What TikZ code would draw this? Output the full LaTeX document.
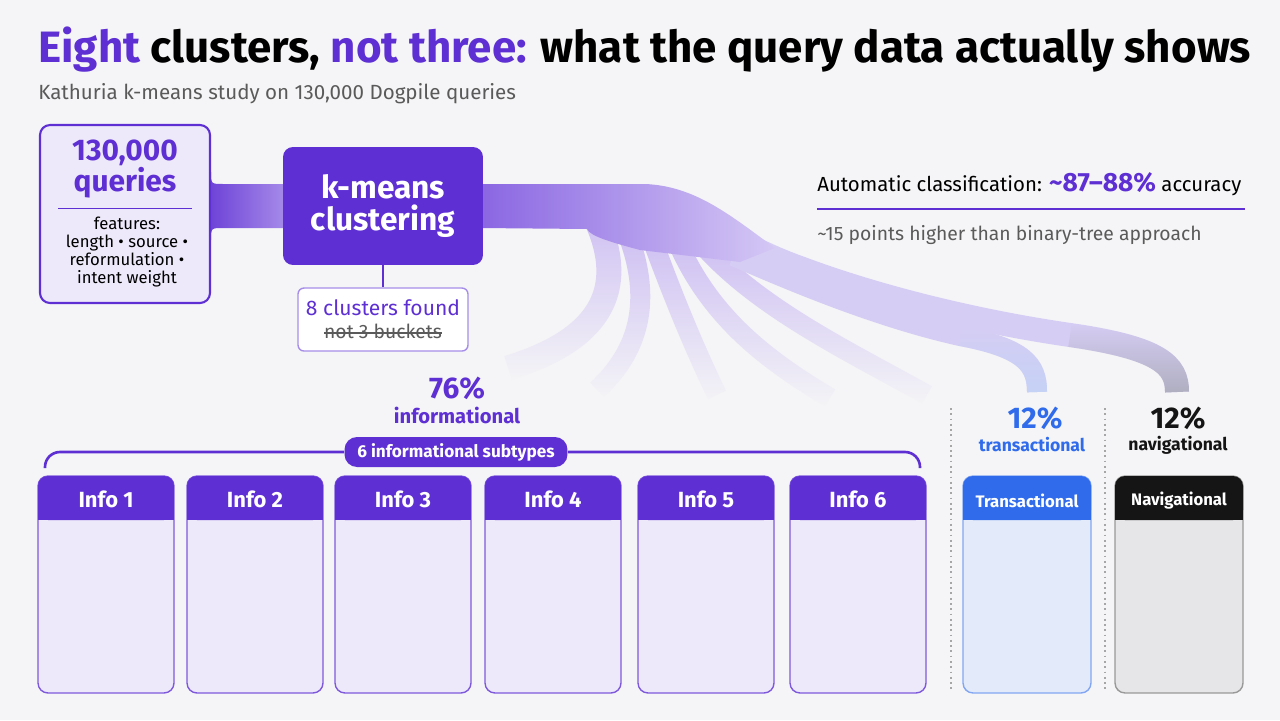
\documentclass[tikz,border=0pt]{standalone}
\usepackage{fontspec}
\setmainfont{Fira Sans}
\usetikzlibrary{positioning,calc,fadings,backgrounds}

\definecolor{bgc}{HTML}{F5F5F7}
\definecolor{purp}{HTML}{5E2FD3}
\definecolor{lav}{HTML}{EEE9FA}
\definecolor{flow}{HTML}{CDBEF3}
\definecolor{flowlt}{HTML}{D6CDF4}
\definecolor{flowdark}{HTML}{8A66E2}
\definecolor{tblue}{HTML}{2F6BEB}
\definecolor{tbluelt}{HTML}{E3EBFB}
\definecolor{ttail}{HTML}{C3D3F6}
\definecolor{nblack}{HTML}{151515}
\definecolor{ngray}{HTML}{E6E6E8}
\definecolor{ntail}{HTML}{A9AAB8}
\definecolor{txtgray}{HTML}{5A5A5A}

\newcommand\strikeout[1]{\setbox0\hbox{#1}\rlap{\rule[0.27em]{\wd0}{0.6pt}}\box0}

\tikzfading[name=fadeend, top color=transparent!0, middle color=transparent!0, bottom color=transparent!100]
\tikzfading[name=fadein, top color=transparent!100, middle color=transparent!0, bottom color=transparent!0]

\tikzset{
  card/.style={draw, rounded corners=0.2cm, line width=0.8pt, outer sep=0pt,
    minimum width=2.72cm, minimum height=4.34cm, inner sep=0pt},
  cardtitle/.style={text=white, font=\fontsize{12.5}{15}\selectfont\bfseries},
  sidetitle/.style={text=white, font=\fontsize{9.5}{12}\selectfont\bfseries},
  stream/.style={draw=flow, line width=0.4cm, path fading=fadeend},
  pct/.style={font=\fontsize{17}{19}\selectfont\bfseries, inner sep=0pt},
  pctlabel/.style={font=\fontsize{11.5}{13}\selectfont\bfseries, inner sep=0pt},
  sep/.style={draw=gray!70, dotted, line width=1pt}
}

\begin{document}
\begin{tikzpicture}[x=0.02cm, y=-0.02cm]
  \useasboundingbox (0,0) rectangle (1280,720);

  \node[anchor=base west, inner sep=0pt, font=\fontsize{25}{28}\selectfont\bfseries] (title) at (38,62)
    {\textcolor{purp}{Eight} clusters, \textcolor{purp}{not three:} what the query data actually shows};
  \node[anchor=base west, inner sep=0pt, text=txtgray, font=\fontsize{11.7}{14}\selectfont] (subtitle) at (38,99)
    {Kathuria k-means study on 130,000 Dogpile queries};

  % input box and clustering step
  \node[draw=purp, fill=lav, line width=1.2pt, rounded corners=0.2cm, minimum width=3.4cm,
    minimum height=3.56cm] (queries) at (125,214) {};
  \node[text=purp, align=center, font=\fontsize{17}{16.4}\selectfont\bfseries] (count) at (125,169) {130,000\\queries};
  \draw[purp] (58,208) -- (192,208);
  \node[align=center, font=\fontsize{9.5}{10.3}\selectfont] (features) at (127,252)
    {features:\\length \textbullet{} source \textbullet\\reformulation \textbullet\\intent weight};

  \node[fill=purp, rounded corners=0.2cm, minimum width=4cm, minimum height=2.36cm, text=white,
    align=center, font=\fontsize{18}{18.7}\selectfont\bfseries] (kmeans) at (383,206) {k-means\\clustering};
  \node[draw=purp!55, fill=white, line width=0.8pt, rounded corners=0.12cm, minimum width=3.4cm,
    minimum height=1.26cm, align=center, font=\fontsize{11}{13}\selectfont, below=0.44cm of kmeans] (found)
    {\textcolor{purp}{\fontsize{12}{13}\selectfont 8 clusters found}\\\textcolor{txtgray}{\strikeout{not 3 buckets}}};
  \draw[purp, line width=1pt] (kmeans) -- (found);
  \coordinate (fan) at (kmeans.east);

  \begin{scope}[on background layer]
    \fill[bgc] (0,0) rectangle (1280,720);
    \shade[left color=purp!90, right color=flowdark!75]
      ($(queries.east |- kmeans)+(0,-34)$) .. controls ($(queries.east |- kmeans)+(0,-22)$) .. ($(queries.east |- kmeans)+(12,-22)$)
      -- ($(kmeans.west)+(4,-22)$) -- ($(kmeans.west)+(4,22)$)
      -- ($(queries.east |- kmeans)+(12,22)$) .. controls ($(queries.east |- kmeans)+(0,22)$) .. ($(queries.east |- kmeans)+(0,34)$) -- cycle;
    % the flows out of the clustering
    \draw[stream, line width=0.5cm] ($(fan)+(113,14)$) .. controls (628,290) and (600,340) .. (508,368);
    \foreach \dx/\dy/\ax/\ay/\bx/\by/\ex/\ey in {
        145/30/652/300/640/350/597/390,
        169/34/678/310/700/360/717/395,
        195/38/712/320/770/362/830/398,
        222/42/762/310/850/352/927/395}
      \draw[stream] ($(fan)+(\dx,\dy)$) .. controls (\ax,\ay) and (\bx,\by) .. (\ex,\ey);
    \coordinate (trturn) at (960,336);
    \coordinate (navturn) at (1070,335);
    \draw[draw=flowlt, line width=0.4cm] ($(fan)+(250,50)$) .. controls (800,285) and (880,318) .. (trturn)
      .. controls (1025,348) and (1037,365) .. (1037,392);
    \draw[draw=ttail, line width=0.4cm, path fading=fadein] (trturn) .. controls (1025,348) and (1037,365) .. (1037,392);
    \draw[draw=flowlt, line width=0.48cm] ($(fan)+(150,3)$) .. controls (700,212) and (735,245) .. (800,268)
      .. controls (880,298) and (980,322) .. (navturn) .. controls (1160,348) and (1177,365) .. (1177,392);
    \draw[draw=ntail, line width=0.48cm, path fading=fadein] (navturn) .. controls (1160,348) and (1177,365) .. (1177,392);
    \shade[left color=flowdark, right color=flow!85]
      ($(fan)+(-4,-22)$) -- (645,184) .. controls (695,186) and (730,215) .. (775,248) -- (740,262)
      -- (640,250) .. controls (610,242) and (590,236) .. (587,229) -- ($(fan)+(-4,22)$) -- cycle;
  \end{scope}

  % accuracy note
  \node[anchor=base west, inner sep=0pt, font=\fontsize{11.6}{15}\selectfont] (acc) at (817,191)
    {Automatic classification: {\fontsize{15}{18}\selectfont\bfseries\color{purp}\textasciitilde 87--88\%} accuracy};
  \draw[purp, line width=1pt] (817,209) -- (1245,209);
  \node[anchor=base west, inner sep=0pt, text=txtgray, font=\fontsize{11}{14}\selectfont] (gain) at (817,240)
    {\textasciitilde 15 points higher than binary-tree approach};

  % shares
  \node[pct, text=purp] (infopct) at (457,388) {76\%};
  \node[pctlabel, text=purp] (infolbl) at (457,415) {informational};
  \node[fill=purp, rounded corners=0.25cm, minimum width=4.46cm, minimum height=0.6cm, text=white,
    font=\fontsize{9.8}{12}\selectfont\bfseries] (subtypes) at (456,452) {6 informational subtypes};
  \draw[purp, line width=1.5pt, rounded corners=0.3cm] (45,468) |- (subtypes.west);
  \draw[purp, line width=1.5pt, rounded corners=0.3cm] (subtypes.east) -| (920,468);

  \draw[sep] (951,408) -- (951,692);
  \draw[sep] (1105,408) -- (1105,692);
  \node[pct, text=tblue] (trpct) at (1035,418) {12\%};
  \node[pctlabel, text=tblue, font=\fontsize{10}{12}\selectfont\bfseries] (trlbl) at (1032,445) {transactional};
  \node[pct, text=nblack] (navpct) at (1178,418) {12\%};
  \node[pctlabel, text=nblack, font=\fontsize{10}{12}\selectfont\bfseries] (navlbl) at (1178,445) {navigational};

  % cluster cards
  \foreach \i/\cx in {1/106,2/255,3/403,4/553,5/706,6/858}{
    \node[card, draw=purp!80, fill=lav] (info\i) at (\cx,584.5) {};
    \fill[purp, rounded corners=0.2cm] (info\i.north west) rectangle ([yshift=-0.88cm]info\i.north east);
    \fill[purp] ([yshift=-0.4cm]info\i.north west) rectangle ([yshift=-0.88cm]info\i.north east);
    \node[cardtitle] at ([yshift=-0.46cm]info\i.north) {Info \i};
  }
  \node[card, draw=tblue!60, fill=tbluelt, minimum width=2.56cm] (trans) at (1027,584.5) {};
  \fill[tblue, rounded corners=0.2cm] (trans.north west) rectangle ([yshift=-0.88cm]trans.north east);
  \fill[tblue] ([yshift=-0.4cm]trans.north west) rectangle ([yshift=-0.88cm]trans.north east);
  \node[sidetitle] at ([yshift=-0.5cm]trans.north) {Transactional};

  \node[card, draw=gray!80, fill=ngray, minimum width=2.56cm] (nav) at (1179,584.5) {};
  \fill[nblack, rounded corners=0.2cm] (nav.north west) rectangle ([yshift=-0.88cm]nav.north east);
  \fill[nblack] ([yshift=-0.4cm]nav.north west) rectangle ([yshift=-0.88cm]nav.north east);
  \node[sidetitle] at ([yshift=-0.5cm]nav.north) {Navigational};
\end{tikzpicture}
\end{document}
